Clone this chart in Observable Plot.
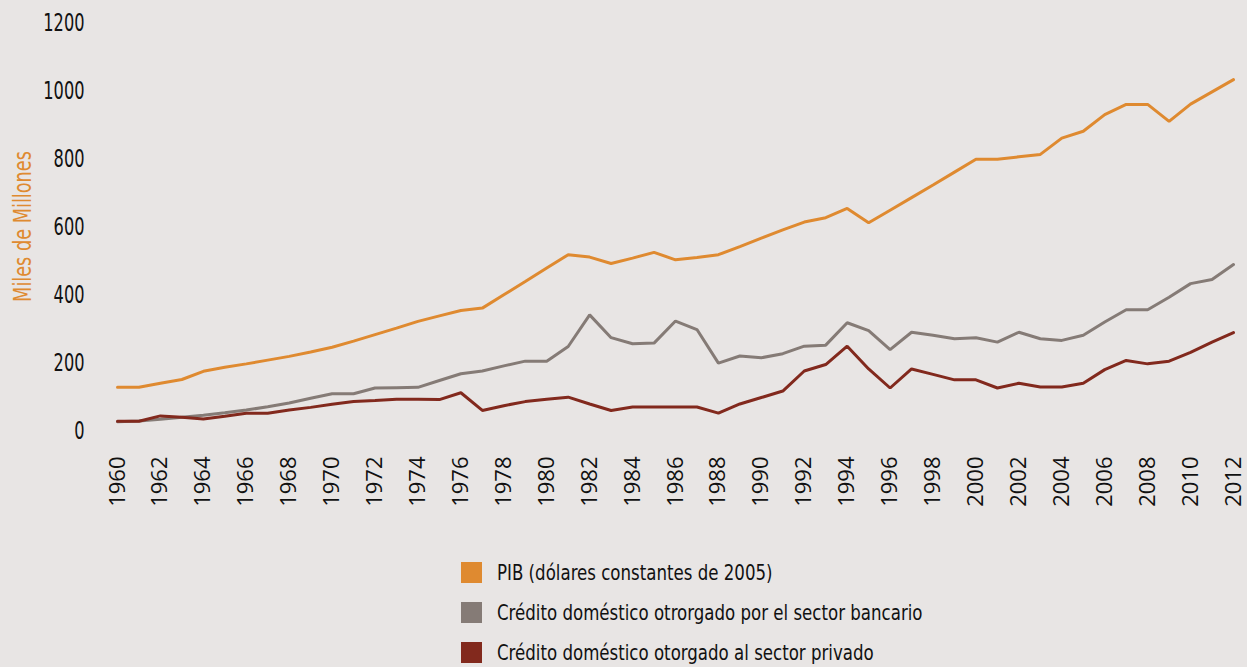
<!DOCTYPE html>
<html>
<head>
<meta charset="utf-8">
<script src="https://cdn.jsdelivr.net/npm/d3@7"></script>
<script src="https://cdn.jsdelivr.net/npm/@observablehq/plot@0.6"></script>
<style>
  html, body { margin: 0; padding: 0; background: #e8e5e4; overflow: hidden; }
  #chart svg { display: block; background: #e8e5e4; }
  .cond { font-family: "DejaVu Sans Condensed", "DejaVu Sans", sans-serif; font-stretch: condensed; }
  #legend { padding-left: 461px; margin-top: 12px; font-size: 22px; color: #111; }
  .row { display: flex; align-items: center; height: 40px; }
  .sw { width: 21px; height: 21px; margin-right: 15px; flex: none; }
  .lt { display: inline-block; transform: scaleX(0.84); transform-origin: left center; white-space: nowrap; }
  .ytick text, .ylab text { font-stretch: condensed; }
</style>
</head>
<body>
<div id="chart"></div>
<div id="legend" class="cond"></div>
<script>
const years = d3.range(1960, 2013);
const seriesNames = [
  "PIB (dólares constantes de 2005)",
  "Crédito doméstico otrorgado por el sector bancario",
  "Crédito doméstico otorgado al sector privado"
];
const seriesColors = ["#df8a30", "#857b76", "#82291d"];
const pib = [127,127,139,150,174,186,196,207,218,231,245,263,282,301,321,337,353,360,399,438,478,517,510,491,507,524,502,509,517,541,566,590,613,626,653,611,648,685,722,760,798,798,805,812,860,880,929,959,959,909,960,996,1032];
const bancario = [26,28,33,39,45,52,60,70,81,95,108,108,125,126,127,147,167,175,190,204,204,247,340,273,255,257,322,297,198,219,214,226,248,251,317,294,238,289,280,270,273,260,289,270,265,280,319,355,355,392,432,444,488];
const privado = [27,27,43,39,34,42,51,51,60,68,77,85,88,92,92,91,111,59,73,85,92,98,78,59,69,69,69,69,51,78,97,116,175,194,248,181,125,181,165,149,149,125,139,128,128,139,179,206,196,204,230,260,288];
const yTicks = [0, 200, 400, 600, 800, 1000, 1200];
const xTicks = d3.range(1960, 2013, 2);
const yLabel = "Miles de Millones";

const allSeries = [pib, bancario, privado];
const data = [];
allSeries.forEach((vals, s) => vals.forEach((v, i) => data.push({year: years[i], value: v, series: seriesNames[s]})));

const condFont = "DejaVu Sans Condensed, DejaVu Sans, sans-serif";

const plot = Plot.plot({
  width: 1247,
  height: 540,
  marginLeft: 117,
  marginRight: 14,
  marginTop: 22,
  marginBottom: 110,
  style: {background: "#e8e5e4"},
  x: {domain: [1960, 2012]},
  y: {domain: [0, 1200]},
  color: {domain: seriesNames, range: seriesColors},
  marks: [
    Plot.axisY({ticks: yTicks, tickSize: 0, tickPadding: 33, label: null, className: "ytick",
      tickFormat: d => String(d), fontSize: 25, fontFamily: condFont, fill: "#111"}),
    Plot.axisX({ticks: xTicks, tickSize: 0, tickPadding: 26, tickRotate: -90, label: null,
      tickFormat: d => String(d), fontSize: 22, fontFamily: "Open Sans, sans-serif", fill: "#111"}),
    Plot.text([yLabel], {frameAnchor: "left", dx: -94, rotate: -90, textAnchor: "middle", className: "ylab",
      fill: "#df8a30", fontSize: 24, fontFamily: condFont}),
    Plot.line(data, {x: "year", y: "value", z: "series", stroke: "series", strokeWidth: 3, strokeLinejoin: "miter"})
  ]
});
document.getElementById("chart").appendChild(plot);

// narrow the condensed text horizontally to match the reference's compressed typeface
d3.select(plot).selectAll(".ytick text").each(function() {
  const t = this.getAttribute("transform") || "";
  this.setAttribute("transform", t + " scale(0.72,1)");
});
d3.select(plot).selectAll(".ylab text").each(function() {
  const t = this.getAttribute("transform") || "";
  this.setAttribute("transform", t + " scale(0.82,1)");
});

const legend = document.getElementById("legend");
seriesNames.forEach((name, i) => {
  const row = document.createElement("div");
  row.className = "row";
  const sw = document.createElement("div");
  sw.className = "sw";
  sw.style.background = seriesColors[i];
  const t = document.createElement("span");
  t.className = "lt";
  t.textContent = name;
  row.appendChild(sw);
  row.appendChild(t);
  legend.appendChild(row);
});
</script>
</body>
</html>
